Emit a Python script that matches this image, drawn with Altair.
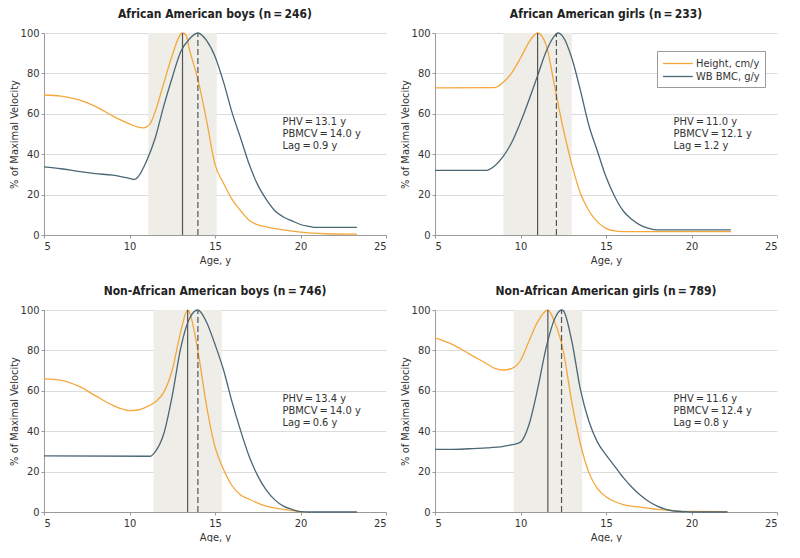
import altair as alt
import pandas as pd

FONT = "Liberation Sans Narrow, DejaVu Sans Condensed, Roboto, sans-serif"
ORANGE = "#F5A73B"
SLATE = "#4A6775"
SERIES = ["Height, cm/y", "WB BMC, g/y"]

TITLES = [
    "African American boys (n\u2009=\u2009246)",
    "African American girls (n\u2009=\u2009233)",
    "Non-African American boys (n\u2009=\u2009746)",
    "Non-African American girls (n\u2009=\u2009789)",
]
PHV = [13.1, 11.0, 13.4, 11.6]
PBMCV = [14.0, 12.1, 14.0, 12.4]
LAG = [0.9, 1.2, 0.6, 0.8]
BAND_LO = [11.1, 9.0, 11.4, 9.6]
BAND_HI = [15.1, 13.0, 15.4, 13.6]

# African American boys
AAB_H_AGE = [5, 6, 7, 8, 9, 10, 10.5, 10.8, 11.2, 11.5, 12, 12.5, 13, 13.1, 13.3, 13.5, 14, 14.5, 15, 15.5, 16, 16.5, 17, 17.5, 18, 19, 20, 21, 22, 23.3]
AAB_H_VAL = [69.3, 68.8, 67, 63.7, 59, 55, 53.4, 53, 55, 61, 75, 89, 99.5, 100, 99, 92, 77, 57, 35, 25.6, 17.6, 12, 7.3, 5, 4, 2.5, 1.4, 0.8, 0.5, 0.4]
AAB_B_AGE = [5, 6, 7, 8, 9, 10, 10.3, 10.5, 11, 11.5, 12, 12.5, 13, 13.5, 14, 14.5, 15, 15.5, 16, 16.5, 17, 17.5, 18, 18.5, 19, 19.5, 20, 20.5, 20.8, 23.3]
AAB_B_VAL = [33.7, 32.8, 31.5, 30.4, 29.6, 28, 27.5, 28.8, 36.7, 47.9, 63.8, 78, 90.8, 97, 100, 96.3, 88.4, 75.7, 60.6, 47.9, 35, 24.8, 17.6, 12, 8.9, 7, 5.2, 4.3, 3.8, 3.8]

# African American girls
AAG_H_AGE = [5, 8.5, 9, 9.5, 10, 10.5, 11, 11.5, 12, 12.5, 13, 13.5, 14, 14.5, 15, 15.5, 16, 22.3]
AAG_H_VAL = [72.8, 73.0, 75.7, 80.4, 87.6, 95.5, 100, 94, 73.3, 52.6, 35, 20.8, 12, 6.5, 3.3, 2, 1.7, 1.7]
AAG_B_AGE = [5, 8, 8.5, 9, 9.5, 10, 10.5, 11, 11.5, 12, 12.2, 12.5, 13, 13.5, 14, 14.5, 15, 15.5, 16, 16.5, 17, 17.5, 18, 22.3]
AAG_B_VAL = [32, 32, 34.3, 39, 46, 55.8, 67, 78.9, 90.8, 98.7, 100, 98, 87.6, 71.7, 54.2, 41.5, 28.8, 19.2, 12, 7.8, 4.9, 3.3, 2.5, 2.5]

# Non-African American boys
NAB_H_AGE = [5, 6, 7, 8, 9, 10, 10.5, 11, 11.5, 12, 12.5, 13, 13.4, 13.5, 14, 14.5, 15, 15.5, 16, 16.5, 17, 17.5, 18, 19, 20, 20.3]
NAB_H_VAL = [65.9, 65.2, 62.4, 57.6, 52.9, 50.2, 50.5, 52, 54.4, 59.2, 70.3, 89.4, 100, 98.9, 79.8, 52.8, 32.2, 21, 13, 8.4, 6.3, 4.4, 2.9, 1.3, 0.2, 0]
NAB_B_AGE = [5, 11.2, 11.5, 12, 12.5, 13, 13.5, 14, 14.5, 15, 15.5, 16, 16.5, 17, 17.5, 18, 18.5, 19, 19.5, 20, 20.5, 23.3]
NAB_B_VAL = [27.8, 27.6, 29.8, 38.6, 57.6, 81.4, 95.7, 100, 94.1, 83, 70.3, 54.4, 40.2, 27.5, 17.9, 10.8, 6, 2.9, 1.3, 0.2, 0, 0]

# Non-African American girls
NAG_H_AGE = [5, 6, 7, 8, 8.5, 9, 9.5, 10, 10.5, 11, 11.6, 12, 12.5, 13, 13.5, 14, 14.5, 15, 15.5, 16, 17, 18, 19, 20, 22.1]
NAG_H_VAL = [86.2, 83, 78.3, 73.5, 71.1, 70.3, 71.1, 75, 84.6, 94.1, 100, 94, 79.8, 54.4, 33.8, 19.5, 11.6, 7.6, 5.2, 3.7, 2.4, 1.3, 0.6, 0.3, 0.2]
NAG_B_AGE = [5, 6, 7, 8, 9, 9.5, 10, 10.5, 11, 11.5, 12, 12.4, 12.5, 13, 13.5, 14, 14.5, 15, 15.5, 16, 16.5, 17, 17.5, 18, 18.5, 19, 19.5, 20, 22.1]
NAG_B_VAL = [31, 31, 31.3, 31.7, 32.5, 33.3, 34.6, 43.3, 60.8, 81.4, 95.7, 100, 99.7, 84.6, 60.8, 44.9, 34.6, 28.3, 22.7, 17.1, 12.4, 8.4, 5.2, 2.9, 1.3, 0.5, 0.2, 0, 0]

CURVES = [
    (AAB_H_AGE, AAB_H_VAL, AAB_B_AGE, AAB_B_VAL),
    (AAG_H_AGE, AAG_H_VAL, AAG_B_AGE, AAG_B_VAL),
    (NAB_H_AGE, NAB_H_VAL, NAB_B_AGE, NAB_B_VAL),
    (NAG_H_AGE, NAG_H_VAL, NAG_B_AGE, NAG_B_VAL),
]
NOTE_Y = [55.7, 50.0, 44.3]
NOTE_X = 18.95

W, H = 342, 202


def panel(i, show_legend):
    h_age, h_val, b_age, b_val = CURVES[i]
    lines = pd.concat([
        pd.DataFrame({"age": h_age, "pct": h_val, "series": SERIES[0]}),
        pd.DataFrame({"age": b_age, "pct": b_val, "series": SERIES[1]}),
    ])
    x_scale = alt.Scale(domain=[5, 25], nice=False, zero=False, padding=0)
    y_scale = alt.Scale(domain=[0, 100], nice=False, padding=0)
    x_axis = alt.Axis(values=[5, 10, 15, 20, 25], grid=False, title="Age, y", format="d")
    y_axis = alt.Axis(values=[0, 20, 40, 60, 80, 100], grid=True, title="% of Maximal Velocity")

    band = alt.Chart(pd.DataFrame({"lo": [BAND_LO[i]], "hi": [BAND_HI[i]]})).mark_rect(
        color="#EEEDE7"
    ).encode(
        x=alt.X("lo:Q", scale=x_scale, axis=x_axis),
        x2="hi:Q",
        y=alt.datum(0, scale=y_scale, axis=y_axis),
        y2=alt.datum(100),
    )

    if show_legend:
        legend = alt.Legend(
            title=None, orient="none", legendX=222, legendY=18,
            symbolType="M-1,0L3.6,0", symbolSize=169, symbolStrokeWidth=1.3,
            strokeColor="#9a9a9a", fillColor="white", padding=5,
            labelFontSize=11, labelColor="#333", labelFont=FONT,
            rowPadding=0, labelOffset=19,
        )
    else:
        legend = None

    curve = alt.Chart(lines).mark_line(interpolate="monotone", strokeWidth=1.3).encode(
        x=alt.X("age:Q", scale=x_scale),
        y=alt.Y("pct:Q", scale=y_scale),
        color=alt.Color("series:N", scale=alt.Scale(domain=SERIES, range=[ORANGE, SLATE]), legend=legend),
    )

    phv = alt.Chart(pd.DataFrame({"v": [PHV[i]]})).mark_rule(color="#555", strokeWidth=1.2).encode(
        x=alt.X("v:Q", scale=x_scale), y=alt.datum(0), y2=alt.datum(100)
    )
    pbm = alt.Chart(pd.DataFrame({"v": [PBMCV[i]]})).mark_rule(
        color="#555", strokeWidth=1.2, strokeDash=[6, 3]
    ).encode(x=alt.X("v:Q", scale=x_scale), y=alt.datum(0), y2=alt.datum(100))

    notes = pd.DataFrame({
        "x": [NOTE_X] * 3,
        "y": NOTE_Y,
        "t": [
            f"PHV\u2009=\u2009{PHV[i]:.1f} y",
            f"PBMCV\u2009=\u2009{PBMCV[i]:.1f} y",
            f"Lag\u2009=\u2009{LAG[i]:.1f} y",
        ],
    })
    text = alt.Chart(notes).mark_text(
        align="left", baseline="middle", fontSize=11, font=FONT, color="#333"
    ).encode(x=alt.X("x:Q", scale=x_scale), y=alt.Y("y:Q", scale=y_scale), text="t:N")

    return alt.layer(band, curve, phv, pbm, text).properties(
        width=W, height=H,
        title=alt.TitleParams(TITLES[i], frame="group", anchor="middle"),
    )


row1 = alt.hconcat(panel(0, False), panel(1, True), spacing=12).resolve_scale(color="independent")
row2 = alt.hconcat(panel(2, False), panel(3, False), spacing=12).resolve_scale(color="independent")

chart = alt.vconcat(row1, row2, spacing=20).resolve_scale(color="independent").properties(
    padding=0
).configure(font=FONT).configure_view(stroke=None).configure_axis(
    labelFontSize=11, labelColor="#333", titleFontSize=11, titleColor="#333",
    titleFontWeight="normal", domainColor="#9a9a9a", tickColor="#9a9a9a",
    tickSize=3, gridColor="#dcdcdc", labelPadding=2, titlePadding=3,
).configure_axisY(titlePadding=1).configure_title(
    fontSize=12, fontWeight="bold", color="#222", offset=6
)

chart.save("out.html", embed_options={"renderer": "svg", "actions": False})
